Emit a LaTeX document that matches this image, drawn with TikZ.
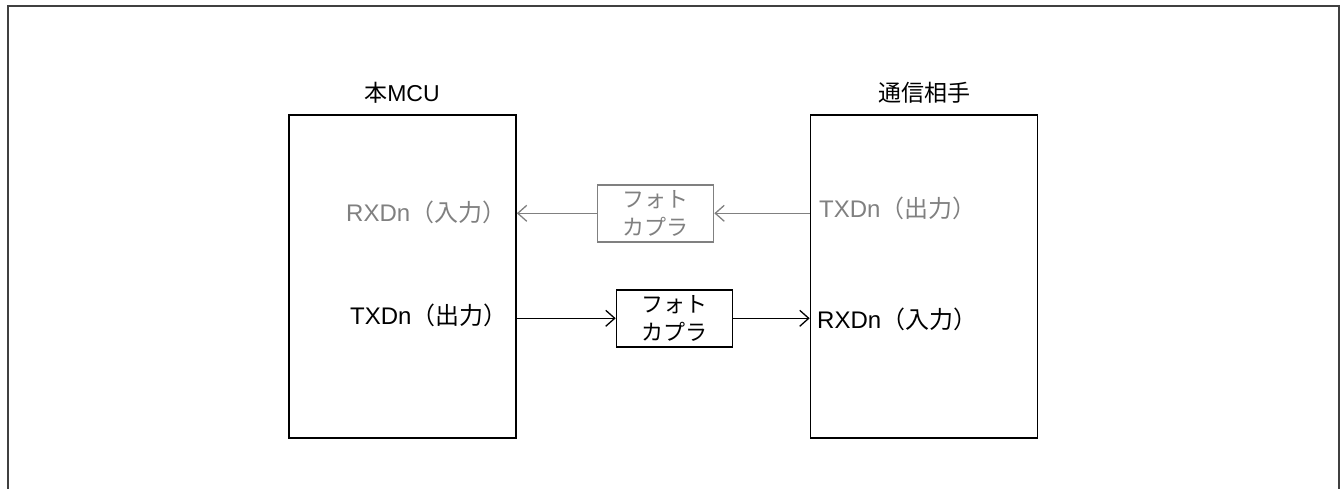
\documentclass[tikz,border=0pt]{standalone}
\usepackage{fontspec}
\setmainfont{Liberation Sans}
\newfontfamily\jp{Noto Sans CJK JP}
\usetikzlibrary{arrows.meta}
\definecolor{dim}{HTML}{808080}
\definecolor{frame}{HTML}{404040}
\tikzset{
  chip/.style={draw=black, line width=1.6pt, minimum width=227pt, minimum height=323pt, inner sep=0pt},
  coupler/.style={draw, line width=1.6pt, minimum width=116pt, minimum height=57pt, inner sep=0pt,
     align=center, font=\jp\fontsize{22}{28}\selectfont},
  sig/.style={inner sep=0pt, anchor=base west, font=\fontsize{24}{28}\selectfont},
  title/.style={inner sep=0pt, anchor=base, font=\fontsize{23}{28}\selectfont},
  conn/.style={line width=1.3pt, -{Straight Barb[length=9pt,width=16pt]}},
}
\begin{document}
\begin{tikzpicture}[x=1pt,y=-1pt]
\useasboundingbox (0,0) rectangle (1344,489);
\draw[frame, line width=1.5pt] (8,489) -- (8,6) -- (1339,6) -- (1339,489);
% chips
\node[chip] (mcu) at (402.5,276.5) {};
\node[chip] (peer) at (924,276.5) {};
\node[title] (t1) at (402,101.5) {{\jp 本}MCU};
\node[title] (t2) at (924,101.5) {\jp 通信相手};
% signal labels
\node[sig, text=dim] (rxl) at (346,222) {RXDn{\jp （入力）}};
\node[sig] (txl) at (350,324) {TXDn{\jp （出力）}};
\node[sig, text=dim] (txr) at (819,218) {TXDn{\jp （出力）}};
\node[sig] (rxr) at (817,328) {RXDn{\jp （入力）}};
% couplers
\node[coupler, draw=dim, text=dim] (pc1) at (655.5,213.3) {フォト\\カプラ};
\node[coupler, draw=black] (pc2) at (674.5,318.3) {フォト\\カプラ};
% connection points
\coordinate (p1) at (peer.west |- pc1.west);
\coordinate (m1) at (mcu.east |- pc1.west);
\coordinate (m2) at (mcu.east |- pc2.west);
\coordinate (p2) at (peer.west |- pc2.east);
\draw[conn, dim] (p1) -- (pc1.east);
\draw[conn, dim] (pc1.west) -- (m1);
\draw[conn] (m2) -- (pc2.west);
\draw[conn] (pc2.east) -- (p2);
\end{tikzpicture}
\end{document}
